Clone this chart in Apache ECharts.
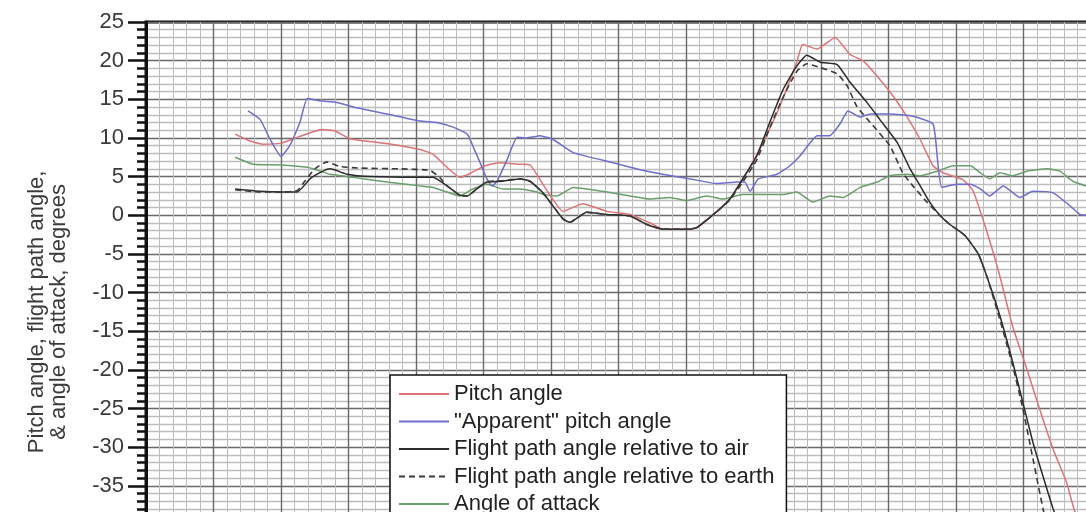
<!DOCTYPE html>
<html>
<head>
<meta charset="utf-8">
<script src="https://cdn.jsdelivr.net/npm/echarts@6/dist/echarts.min.js"></script>
<style>
html,body{margin:0;padding:0;background:#fff;}
#c{width:1086px;height:512px;}
</style>
</head>
<body>
<div id="c"></div>
<script>
// ---- Data (x in major grid units, y in degrees) ----
const seriesNames = ['Pitch angle', '"Apparent" pitch angle', 'Flight path angle relative to air', 'Flight path angle relative to earth', 'Angle of attack'];

const pitchX = [1.32,1.54,1.72,1.99,2.28,2.61,2.80,3.02,3.54,4.06,4.25,4.46,4.65,4.80,5.02,5.24,5.54,5.69,5.91,6.18,6.47,6.83,7.17,7.47,7.66,8.06,8.16,8.46,8.65,8.90,9.14,9.39,9.64,9.73,9.94,10.21,10.43,10.62,10.87,11.07,11.27,11.47,11.66,11.81,12.10,12.25,12.46,12.65,12.84,13.05,13.24,13.44,13.64,13.76,13.99];
const pitchY = [10.5,9.6,9.2,9.3,10.2,11.1,10.9,9.9,9.3,8.5,7.9,6.2,4.9,5.4,6.4,6.8,6.6,6.5,3.6,0.5,1.5,0.5,0.1,-1.0,-1.8,-1.8,-1.6,0.5,2.1,5.5,9.4,14.1,19.8,22.1,21.5,23.0,20.8,20.0,17.6,15.4,12.8,9.8,6.4,5.5,4.6,3.2,-2.2,-7.9,-14.4,-19.9,-25.1,-30.3,-34.6,-38.3,-42];

const apparentX = [1.51,1.69,1.84,2.00,2.13,2.28,2.39,2.58,2.83,3.07,3.57,4.06,4.31,4.55,4.76,4.84,4.95,5.05,5.13,5.20,5.35,5.50,5.64,5.84,6.03,6.33,6.92,7.42,8.06,8.46,8.76,8.87,8.95,9.07,9.35,9.54,9.69,9.84,9.94,10.13,10.28,10.40,10.58,10.73,11.02,11.36,11.66,11.73,11.79,12.01,12.21,12.36,12.50,12.70,12.95,13.14,13.44,13.69,13.84,13.99];
const apparentY = [13.5,12.4,9.8,7.6,9.0,12.0,15.1,14.8,14.6,14.0,13.1,12.2,12.0,11.4,10.5,9.0,6.8,4.7,3.8,4.4,7.2,10.1,10.0,10.3,9.8,8.1,6.8,5.7,4.7,4.1,4.3,4.3,3.1,4.7,5.3,6.4,7.7,9.4,10.3,10.3,11.8,13.5,12.7,13.1,13.1,12.8,11.8,6.8,3.6,4.0,4.0,3.4,2.5,3.8,2.3,3.1,2.9,1.2,0.1,0.0];

const airX = [1.32,1.69,2.01,2.24,2.43,2.62,2.73,2.98,3.32,4.06,4.25,4.46,4.65,4.76,4.90,5.05,5.29,5.54,5.69,5.88,6.18,6.28,6.53,6.83,7.17,7.42,7.66,8.06,8.16,8.46,8.65,8.84,9.05,9.24,9.44,9.64,9.79,9.99,10.24,10.43,10.68,10.87,11.13,11.32,11.47,11.61,11.76,11.91,12.13,12.33,12.46,12.65,12.84,12.99,13.14,13.29,13.44,13.69];
const airY = [3.4,3.1,3.0,3.0,4.7,5.7,6.0,5.3,5.0,4.9,4.9,3.8,2.6,2.5,3.4,4.3,4.4,4.7,4.4,2.9,-0.5,-0.9,0.4,0.1,-0.1,-1.2,-1.8,-1.8,-1.6,0.5,2.1,4.7,7.7,12.0,16.3,19.3,20.7,19.8,19.5,17.2,14.6,12.4,9.4,6.0,3.8,1.7,0.0,-1.2,-2.6,-5.0,-8.0,-13.0,-19.0,-24.2,-29.4,-33.8,-38.0,-44];

const earthX = [1.32,1.69,2.01,2.24,2.36,2.50,2.68,2.87,3.17,3.76,4.21,4.36,4.46,4.65,4.76,4.90,5.05,5.29,5.54,5.69,5.88,6.18,6.28,6.53,6.83,7.17,7.42,7.66,8.06,8.16,8.46,8.65,8.84,9.05,9.24,9.44,9.64,9.79,9.99,10.24,10.39,10.53,10.73,11.02,11.21,11.36,11.57,11.76,11.91,12.13,12.33,12.46,12.65,12.84,12.99,13.14,13.29,13.47];
const earthY = [3.3,3.0,3.0,3.2,4.5,6.0,6.9,6.3,6.1,6.0,5.8,4.8,3.8,2.6,2.5,3.4,4.3,4.5,4.7,4.4,2.9,-0.5,-0.9,0.4,0.1,-0.1,-1.2,-1.8,-1.8,-1.6,0.5,2.0,4.3,7.2,11.3,15.3,18.6,19.6,19.1,18.3,16.7,14.1,12.0,9.0,5.5,3.8,1.7,0.0,-1.2,-2.6,-5.0,-8.0,-13.5,-19.5,-25.0,-31.5,-38.0,-45];

const aoaX = [1.32,1.59,1.99,2.39,2.58,2.73,3.07,3.57,4.06,4.25,4.46,4.65,4.84,5.05,5.29,5.54,5.79,5.88,6.09,6.33,6.53,6.83,7.17,7.47,7.76,8.01,8.31,8.55,8.84,9.14,9.44,9.64,9.88,10.13,10.33,10.58,10.83,11.02,11.27,11.47,11.72,11.96,12.21,12.36,12.50,12.65,12.84,13.05,13.35,13.54,13.73,13.99];
const aoaY = [7.5,6.6,6.5,6.2,5.7,5.3,4.9,4.3,3.8,3.6,3.0,2.5,3.4,4.0,3.4,3.4,3.0,2.7,2.5,3.6,3.4,3.0,2.5,2.1,2.3,1.9,2.5,2.1,2.7,2.7,2.7,3.0,1.7,2.5,2.3,3.6,4.3,5.1,5.3,5.1,5.7,6.4,6.4,5.5,4.7,5.5,5.1,5.7,6.0,5.7,4.4,3.6];

const yTickMin = -50, yTickMax = 25, yTickStep = 5;
const xMin = 0, xMax = 14, xStep = 1;

function zip(xs, ys){ return xs.map((x,i)=>[x, ys[i]]); }

const FONT = '"Liberation Sans", Arial, sans-serif';
const colors = ['#dd7376', '#6e6ecc', '#2a2a2a', '#3a3a3a', '#6a9e6a'];
const dataSets = [zip(pitchX,pitchY), zip(apparentX,apparentY), zip(airX,airY), zip(earthX,earthY), zip(aoaX,aoaY)];

const chart = echarts.init(document.getElementById('c'), null, {renderer:'canvas'});
chart.setOption({
  animation: false,
  backgroundColor: '#ffffff',
  textStyle: {fontFamily: FONT},
  grid: {
    left: 146, top: 22, width: 945, height: 579.75,
    show: true, borderColor: '#111', borderWidth: 3,
    containLabel: false, outerBoundsMode: 'none'
  },
  xAxis: {
    type: 'value', min: xMin, max: xMax, interval: xStep,
    axisLine: {show: false}, axisTick: {show: false}, axisLabel: {show: false},
    minorTick: {show: true, splitNumber: 5, length: 0},
    splitLine: {show: true, lineStyle: {color: '#6a6a6a', width: 1.4}},
    minorSplitLine: {show: true, lineStyle: {color: '#bdbdbd', width: 1}}
  },
  yAxis: {
    type: 'value', min: yTickMin, max: yTickMax, interval: yTickStep,
    axisLine: {show: true, onZero: false, lineStyle: {color: '#111', width: 3}},
    axisTick: {show: true, length: 18, lineStyle: {color: '#111', width: 2.5}},
    minorTick: {show: true, splitNumber: 5, length: 9, lineStyle: {color: '#111', width: 2.5}},
    splitLine: {show: true, lineStyle: {color: '#6a6a6a', width: 1.4}},
    minorSplitLine: {show: true, lineStyle: {color: '#bdbdbd', width: 1.4}},
    axisLabel: {fontSize: 22, color: '#3a3a3a', margin: 22, fontFamily: FONT},
    name: 'Pitch angle, flight path angle,\n& angle of attack, degrees',
    nameLocation: 'middle', nameGap: 76,
    nameTextStyle: {fontSize: 22, lineHeight: 22, color: '#3a3a3a', fontFamily: FONT}
  },
  legend: {
    orient: 'vertical', left: 390, top: 375, height: 220,
    padding: [8, 12, 8, 8],
    itemWidth: 50, itemHeight: 14, itemGap: 5.5,
    backgroundColor: '#fff', borderColor: '#111', borderWidth: 1.5, borderRadius: 0,
    itemStyle: {opacity: 0, borderWidth: 0},
    textStyle: {fontSize: 22, lineHeight: 22, color: '#222', fontFamily: FONT},
    data: seriesNames
  },
  series: seriesNames.map((n, i) => ({
    name: n, type: 'line', data: dataSets[i],
    symbol: 'none', showSymbol: false, smooth: 0.15,
    color: colors[i],
    lineStyle: {color: colors[i], width: i === 3 ? 1.6 : 1.5, type: i === 3 ? [6, 4] : 'solid'},
    z: i === 4 ? 2 : 3
  }))
});
</script>
</body>
</html>
